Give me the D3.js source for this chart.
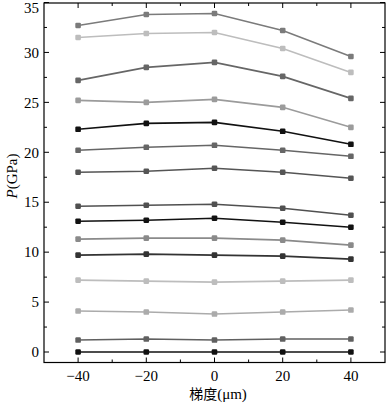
<!DOCTYPE html>
<html>
<head>
<meta charset="utf-8">
<script src="https://cdn.jsdelivr.net/npm/d3@7"></script>
<style>
  body { margin: 0; background: #fff; }
  text { font-family: "Liberation Serif", "DejaVu Serif", serif; }
</style>
</head>
<body>
<div id="chart"></div>
<script>
// x positions (gradient, µm)
const gradients = [-40, -20, 0, 20, 40];

// one row per curve, top to bottom
const curveValues = [
  [32.7, 33.8, 33.9, 32.2, 29.6],
  [31.5, 31.9, 32.0, 30.4, 28.0],
  [27.2, 28.5, 29.0, 27.6, 25.4],
  [25.2, 25.0, 25.3, 24.5, 22.5],
  [22.3, 22.9, 23.0, 22.1, 20.8],
  [20.2, 20.5, 20.7, 20.2, 19.6],
  [18.0, 18.1, 18.4, 18.0, 17.4],
  [14.6, 14.7, 14.8, 14.4, 13.7],
  [13.1, 13.2, 13.4, 13.0, 12.5],
  [11.3, 11.4, 11.4, 11.2, 10.7],
  [9.7, 9.8, 9.7, 9.6, 9.3],
  [7.2, 7.1, 7.0, 7.1, 7.2],
  [4.1, 4.0, 3.8, 4.0, 4.2],
  [1.2, 1.3, 1.2, 1.3, 1.3],
  [0, 0, 0, 0, 0]
];
const curveGrays = ["#7b7b7b", "#bdbdbd", "#666666", "#9b9b9b", "#111111",
  "#666666", "#555555", "#505050", "#111111", "#8a8a8a",
  "#333333", "#bdbdbd", "#ababab", "#606060", "#111111"];

const yTicks = [0, 5, 10, 15, 20, 25, 30, 35];
const xTicks = [-40, -20, 0, 20, 40];

const W = 387, H = 403;
const box = {left: 44, right: 385, top: 3, bottom: 362.5};

const svg = d3.select("#chart").append("svg")
  .attr("width", W).attr("height", H);

const x = d3.scaleLinear().domain([-50, 50]).range([box.left, box.right]);
const y = d3.scaleLinear().domain([-1.05, 34.95]).range([box.bottom, box.top]);

// frame
svg.append("rect")
  .attr("x", box.left).attr("y", box.top)
  .attr("width", box.right - box.left).attr("height", box.bottom - box.top)
  .attr("fill", "none").attr("stroke", "#000").attr("stroke-width", 1.2);

// ticks pointing inward
const tickLine = (x1, y1, x2, y2) => svg.append("line")
  .attr("x1", x1).attr("y1", y1).attr("x2", x2).attr("y2", y2)
  .attr("stroke", "#000").attr("stroke-width", 1);

d3.range(-40, 41, 10).forEach(v => {
  const len = v % 20 === 0 ? 5 : 3;
  tickLine(x(v), box.bottom, x(v), box.bottom - len);
  tickLine(x(v), box.top, x(v), box.top + len);
});
d3.range(0, 35.1, 2.5).forEach(v => {
  const len = v % 5 === 0 ? 5 : 3;
  tickLine(box.left, y(v), box.left + len, y(v));
  tickLine(box.right, y(v), box.right - len, y(v));
});

// tick labels
svg.selectAll(".xl").data(xTicks).join("text")
  .attr("x", d => x(d)).attr("y", 381)
  .attr("text-anchor", "middle")
  .style("font-size", "15px")
  .text(d => d < 0 ? "\u2212" + Math.abs(d) : d);

svg.selectAll(".yl").data(yTicks).join("text")
  .attr("x", 39).attr("y", d => Math.max(y(d), 8))
  .attr("dy", "0.35em")
  .attr("text-anchor", "end")
  .style("font-size", "15px")
  .text(d => d);

// axis titles
const yt = svg.append("text")
  .attr("transform", "translate(17,176) rotate(-90)")
  .attr("text-anchor", "middle")
  .style("font-size", "15px");
yt.append("tspan").style("font-style", "italic").text("P");
yt.append("tspan").text("(GPa)");

const xt = svg.append("text")
  .attr("x", 218).attr("y", 399)
  .attr("text-anchor", "middle")
  .style("font-size", "15px");
xt.append("tspan").style("font-family", "'Noto Sans CJK SC'").style("font-size", "14px").text("梯度");
xt.append("tspan").text("(μm)");

// curves
const series = curveValues.map((vals, i) => ({
  color: curveGrays[i],
  points: vals.map((v, j) => ({g: gradients[j], p: v}))
}));

const line = d3.line().x(d => x(d.g)).y(d => y(d.p));

svg.selectAll(".curve").data(series).join("path")
  .attr("d", d => line(d.points))
  .attr("fill", "none")
  .attr("stroke", d => d.color)
  .attr("stroke-width", 1.6);

svg.selectAll(".marks").data(series).join("g")
  .attr("fill", d => d.color)
  .selectAll("rect").data(d => d.points).join("rect")
    .attr("x", d => x(d.g) - 2.8).attr("y", d => y(d.p) - 2.8)
    .attr("width", 5.6).attr("height", 5.6)
    .attr("rx", 1.2);
</script>
</body>
</html>
